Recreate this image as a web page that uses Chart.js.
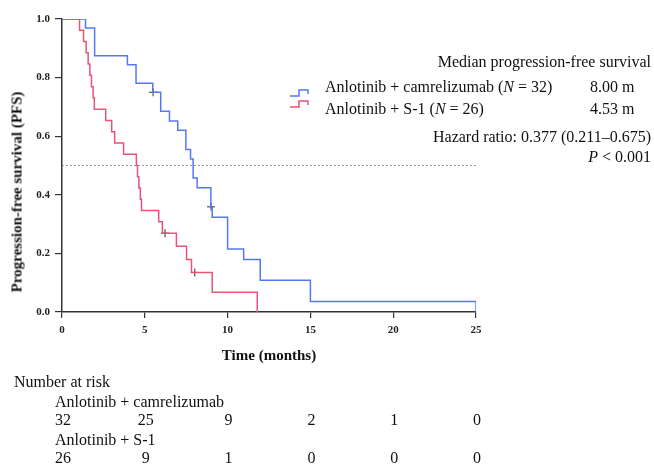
<!DOCTYPE html>
<html>
<head>
<meta charset="utf-8">
<script src="https://cdn.jsdelivr.net/npm/chart.js@4/dist/chart.umd.min.js"></script>
<style>
  body { margin: 0; background: #fff; }
  #wrap { position: relative; width: 654px; height: 465px; font-family: "Liberation Serif", serif; color: #111; }
  #myChart { position: absolute; left: 0; top: 0; }
  .t { position: absolute; font-size: 16px; white-space: nowrap; line-height: 1; transform: translateY(-50%); }
  .num { position: absolute; font-size: 16px; line-height: 1; transform: translate(-50%, -50%); }
  .ytitle { position: absolute; left: 17px; top: 192px; font-size: 15px; font-weight: bold; white-space: nowrap; line-height: 1; transform: translate(-50%, -50%) rotate(-90deg); }
  svg.icon { position: absolute; }
</style>
</head>
<body>
<div id="wrap">
  <canvas id="myChart" width="654" height="465"></canvas>

  <div class="ytitle">Progression-free survival (PFS)</div>

  <div class="t" style="right:3px; top:62px;">Median progression-free survival</div>
  <svg class="icon" style="left:289px; top:89px;" width="22" height="9"><polyline points="1,7 10,7 10,1 19,1 19,5" fill="none" stroke="#5478f5" stroke-width="1.5"/></svg>
  <div class="t" style="left:325px; top:87px;">Anlotinib + camrelizumab (<i>N</i> = 32)</div>
  <div class="t" style="left:590px; top:87px;">8.00 m</div>
  <svg class="icon" style="left:289px; top:100px;" width="22" height="9"><polyline points="1,7 10,7 10,1 19,1 19,5" fill="none" stroke="#e85478" stroke-width="1.5"/></svg>
  <div class="t" style="left:325px; top:109px;">Anlotinib + S-1 (<i>N</i> = 26)</div>
  <div class="t" style="left:590px; top:109px;">4.53 m</div>
  <div class="t" style="right:3px; top:137px;">Hazard ratio: 0.377 (0.211–0.675)</div>
  <div class="t" style="right:3px; top:157px;"><i>P</i> &lt; 0.001</div>

  <div class="t" style="left:14px; top:382px;">Number at risk</div>
  <div class="t" style="left:55px; top:402px;">Anlotinib + camrelizumab</div>
  <div class="t" style="left:55px; top:440px;">Anlotinib + S-1</div>
  <div id="risk1"></div>
  <div id="risk2"></div>
</div>

<script>
// Kaplan-Meier steps (time in months, survival)
const comboTimes = [0, 1.42, 1.97, 3.95, 4.47, 5.48, 5.96, 6.49, 6.99, 7.48, 7.76, 7.92, 8.16, 8.99, 9.07, 10.0, 10.97, 11.97, 15.0, 25.0];
const comboSurv  = [1.0, 0.969, 0.875, 0.844, 0.781, 0.75, 0.685, 0.652, 0.620, 0.555, 0.522, 0.457, 0.424, 0.359, 0.323, 0.215, 0.179, 0.108, 0.036, 0.0];
const comboCensorTimes = [5.5, 9.0];
const comboCensorSurv  = [0.75, 0.359];

const s1Times = [0, 1.06, 1.3, 1.46, 1.58, 1.68, 1.78, 1.88, 1.95, 2.64, 3.0, 3.18, 3.72, 4.49, 4.56, 4.64, 4.73, 4.8, 5.84, 6.06, 6.91, 7.52, 7.82, 9.07, 11.79];
const s1Surv  = [1.0, 0.962, 0.923, 0.885, 0.846, 0.808, 0.769, 0.731, 0.692, 0.654, 0.615, 0.577, 0.538, 0.5, 0.462, 0.423, 0.385, 0.346, 0.308, 0.269, 0.224, 0.179, 0.135, 0.067, 0.0];
const s1CensorTimes = [6.22, 8.02];
const s1CensorSurv  = [0.269, 0.135];

const riskTimes = [0, 5, 10, 15, 20, 25];
const comboRisk = [32, 25, 9, 2, 1, 0];
const s1Risk = [26, 9, 1, 0, 0, 0];

const blue = "#5478f5";
const red = "#e85478";

function toPoints(xs, ys) {
  return xs.map((x, i) => ({ x: x, y: ys[i] }));
}

const ctx = document.getElementById("myChart");
const chart = new Chart(ctx, {
  type: "line",
  data: {
    datasets: [
      {
        label: "median",
        data: [{ x: 0, y: 0.5 }, { x: 25, y: 0.5 }],
        borderColor: "#999",
        borderWidth: 1,
        borderDash: [2, 2],
        pointRadius: 0,
      },
      {
        label: "Anlotinib + camrelizumab",
        data: toPoints(comboTimes, comboSurv),
        borderColor: blue,
        borderWidth: 1.5,
        stepped: "before",
        pointRadius: 0,
      },
      {
        label: "Anlotinib + S-1",
        data: toPoints(s1Times, s1Surv),
        borderColor: red,
        borderWidth: 1.5,
        stepped: "before",
        pointRadius: 0,
      },
      {
        label: "censored combo",
        data: toPoints(comboCensorTimes, comboCensorSurv),
        showLine: false,
        pointStyle: "cross",
        pointRadius: 4,
        borderColor: "#333",
        borderWidth: 1,
      },
      {
        label: "censored s1",
        data: toPoints(s1CensorTimes, s1CensorSurv),
        showLine: false,
        pointStyle: "cross",
        pointRadius: 4,
        borderColor: "#333",
        borderWidth: 1,
      },
    ],
  },
  options: {
    responsive: false,
    animation: false,
    layout: {
      padding: { left: 0, top: 19, right: 178, bottom: 100 },
    },
    plugins: {
      legend: { display: false },
      tooltip: { enabled: false },
    },
    scales: {
      x: {
        type: "linear",
        min: 0,
        max: 25,
        afterFit: (scale) => { scale.height = 53; },
        ticks: {
          stepSize: 5,
          padding: 6,
          color: "#222",
          font: { family: "Liberation Serif", size: 11, weight: "bold" },
        },
        grid: { drawOnChartArea: false, tickLength: 6, color: "#333", lineWidth: 1.2 },
        border: { color: "#333", width: 1.5 },
        title: {
          display: true,
          text: "Time (months)",
          color: "#111",
          padding: { top: 4, bottom: 0 },
          font: { family: "Liberation Serif", size: 15, weight: "bold" },
        },
      },
      y: {
        min: 0,
        max: 1,
        afterFit: (scale) => { scale.width = 62; },
        ticks: {
          stepSize: 0.2,
          padding: 5,
          color: "#222",
          callback: (v) => v.toFixed(1),
          font: { family: "Liberation Serif", size: 11, weight: "bold" },
        },
        grid: { drawOnChartArea: false, tickLength: 7, color: "#333", lineWidth: 1.2 },
        border: { color: "#333", width: 1.5 },
      },
    },
  },
});

// number-at-risk table placed under the x-axis ticks
function fillRisk(id, values, top) {
  const box = document.getElementById(id);
  values.forEach((v, i) => {
    const el = document.createElement("div");
    el.className = "num";
    el.style.left = (chart.scales.x.getPixelForValue(riskTimes[i]) + 1) + "px";
    el.style.top = top + "px";
    el.textContent = v;
    box.appendChild(el);
  });
}
fillRisk("risk1", comboRisk, 420);
fillRisk("risk2", s1Risk, 458);
</script>
</body>
</html>
